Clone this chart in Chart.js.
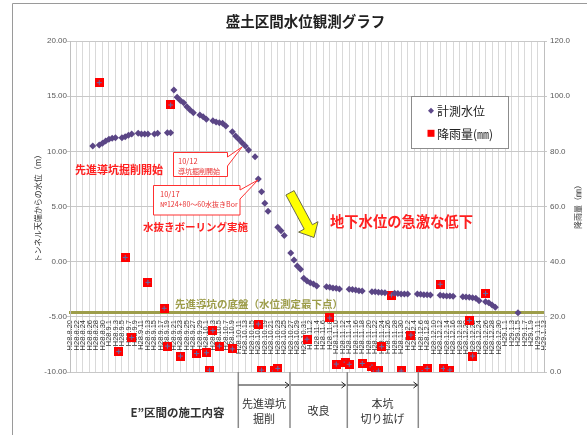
<!DOCTYPE html>
<html><head><meta charset="utf-8">
<script src="https://cdn.jsdelivr.net/npm/chart.js@4.4.0/dist/chart.umd.min.js"></script>
<style>
html,body{margin:0;padding:0;background:#fff;}
#wrap{position:relative;width:587px;height:435px;overflow:hidden;}
#c{position:absolute;left:0;top:0;}
#ov{position:absolute;left:0;top:0;pointer-events:none;}
</style></head><body>
<div id="wrap">
<canvas id="c" width="587" height="435"></canvas>
<svg id="ov" width="587" height="435" viewBox="0 0 587 435" font-family="'Noto Sans CJK JP',sans-serif">
  <!-- frame -->
  <path d="M12.5 435 V3.5 H587" fill="none" stroke="#9a9a9a" stroke-width="1"/>
  <!-- olive baseline label -->
  <text x="175" y="303" font-size="10.5" font-weight="bold" fill="#9d9d4a" dominant-baseline="central">先進導坑の底盤（水位測定最下点）</text>
  <!-- red annotations -->
  <text x="75" y="169" font-size="11" font-weight="bold" fill="#ff2020" dominant-baseline="central">先進導坑掘削開始</text>
  <text x="143" y="226" font-size="10.5" font-weight="bold" fill="#ff2020" dominant-baseline="central">水抜きボーリング実施</text>
  <text x="330" y="220" font-size="14.3" font-weight="bold" fill="#ff2020" dominant-baseline="central">地下水位の急激な低下</text>
  <!-- callout 1 -->
  <path d="M173.5 152.5 H227.5 V157 L242 147 L227.5 166 V176.5 H173.5 Z" fill="#fff" stroke="#ff3030" stroke-width="1"/>
  <text x="178" y="160" font-size="7.5" fill="#e83030" dominant-baseline="central">10/12</text>
  <text x="178" y="171" font-size="7" fill="#e83030" dominant-baseline="central">導坑掘削開始</text>
  <!-- callout 2 -->
  <path d="M153.5 185.5 H240 V190 L258 180 L240 199 V215 H153.5 Z" fill="#fff" stroke="#ff3030" stroke-width="1"/>
  <text x="160" y="193.5" font-size="7.5" fill="#e83030" dominant-baseline="central">10/17</text>
  <text x="160" y="204" font-size="7" fill="#e83030" dominant-baseline="central">№124+80～60水抜きBor</text>
  <!-- yellow arrow -->
  <polygon points="294.1,190.6 312.4,224.7 318.0,221.7 314,237.5 298.6,232.1 304.2,229.1 285.9,195.0" fill="#ffff00" stroke="#6b6b47" stroke-width="1"/>
  <!-- legend -->
  <rect x="411.5" y="96.5" width="97" height="52" fill="#fff" stroke="#8c8c8c" stroke-width="1"/>
  <polygon points="431,107.7 434,110.7 431,113.7 428,110.7" fill="#5f4a8b"/>
  <text x="437" y="110.7" font-size="12" fill="#222" dominant-baseline="central">計測水位</text>
  <rect x="427.5" y="129.8" width="7" height="7" fill="#ff0000"/>
  <text x="437" y="133.3" font-size="12" fill="#222" dominant-baseline="central">降雨量(㎜)</text>
  <!-- right axis title -->
  <text transform="translate(577,205) rotate(-90)" x="0" y="0" font-size="8" fill="#333" text-anchor="middle" dominant-baseline="central">降雨量（㎜）</text>
  <!-- bottom table -->
  <g stroke="#8a8a8a" stroke-width="1.5">
    <line x1="238.3" y1="372" x2="238.3" y2="428"/>
    <line x1="290" y1="372" x2="290" y2="428"/>
    <line x1="347.3" y1="372" x2="347.3" y2="428"/>
    <line x1="418.3" y1="372" x2="418.3" y2="428"/>
  </g>
  <g stroke="#222" stroke-width="1" fill="none">
    <line x1="238.5" y1="385" x2="289" y2="385"/><path d="M285 382 L289 385 L285 388"/>
    <line x1="291" y1="385" x2="345.5" y2="385"/><path d="M341.5 382 L345.5 385 L341.5 388"/>
    <line x1="347.5" y1="385" x2="417.5" y2="385"/><path d="M413.5 382 L417.5 385 L413.5 388"/>
  </g>
  <g font-size="11" fill="#333" text-anchor="middle" dominant-baseline="central">
    <text x="177.5" y="411.7" font-size="11.5" font-weight="bold">E”区間の施工内容</text>
    <text x="264" y="403">先進導坑</text>
    <text x="264" y="418">掘削</text>
    <text x="318.5" y="410">改良</text>
    <text x="382.5" y="403">本坑</text>
    <text x="382.5" y="418">切り拡げ</text>
  </g>
</svg>
</div>
<script>
// ---- data (day index from H28.8.20) ----
const tickLabels = ["H28.8.20","H28.8.22","H28.8.24","H28.8.26","H28.8.28","H28.8.30","H28.9.1","H28.9.3","H28.9.5","H28.9.7","H28.9.9","H28.9.11","H28.9.13","H28.9.15","H28.9.17","H28.9.19","H28.9.21","H28.9.23","H28.9.25","H28.9.27","H28.9.29","H28.10.1","H28.10.3","H28.10.5","H28.10.7","H28.10.9","H28.10.11","H28.10.13","H28.10.15","H28.10.17","H28.10.19","H28.10.21","H28.10.23","H28.10.25","H28.10.27","H28.10.29","H28.10.31","H28.11.2","H28.11.4","H28.11.6","H28.11.8","H28.11.10","H28.11.12","H28.11.14","H28.11.16","H28.11.18","H28.11.20","H28.11.22","H28.11.24","H28.11.26","H28.11.28","H28.11.30","H28.12.2","H28.12.4","H28.12.6","H28.12.8","H28.12.10","H28.12.12","H28.12.14","H28.12.16","H28.12.18","H28.12.20","H28.12.22","H28.12.24","H28.12.26","H28.12.28","H28.12.30","H29.1.1","H29.1.3","H29.1.5","H29.1.7","H29.1.9","H29.1.11","H29.1.13"];

const waterDays  = [7,9,10,11,12,13,14,16,17,18,19,21,22,23,24,26,27,30,31,32,33,34,35,36,37,38,40,41,42,44,45,46,47,48,50,51,52,53,54,55,57,58,59,60,61,64,65,66,68,69,70,71,72,73,74,75,76,79,80,81,82,83,86,87,88,89,90,93,94,95,96,97,100,101,102,103,104,107,108,109,110,111,114,115,116,117,118,121,122,123,124,125,126,128,129,130,131,138];
const waterLevel = [10.48,10.57,10.73,10.94,11.09,11.18,11.24,11.24,11.33,11.45,11.57,11.63,11.57,11.57,11.57,11.57,11.63,11.69,11.69,15.56,14.9,14.6,14.4,14.05,13.75,13.5,13.3,13.14,12.9,12.78,12.66,12.6,12.54,12.3,11.78,11.39,11.09,10.78,10.48,10.12,9.5,7.5,6.34,5.3,4.58,3.11,2.8,2.38,0.79,0.15,-0.39,-0.69,-1.51,-1.75,-1.9,-2.02,-2.2,-2.27,-2.32,-2.39,-2.41,-2.48,-2.51,-2.52,-2.57,-2.63,-2.66,-2.72,-2.73,-2.78,-2.79,-2.81,-2.87,-2.88,-2.93,-2.93,-2.94,-2.94,-2.96,-2.99,-3.0,-3.02,-3.05,-3.08,-3.11,-3.12,-3.14,-3.17,-3.2,-3.23,-3.26,-3.32,-3.54,-3.63,-3.72,-3.93,-4.14,-4.62];

const rainDays = [9,15,17,19,24,29,30,31,34,39,42,43,44,46,50,58,59,63,64,73,80,82,85,86,90,93,94,95,96,99,102,105,108,109,110,114,115,117,123,124,128];
const rainMM   = [104.9,7.4,41.5,12.5,32.5,23.1,9.4,96.8,5.8,6.7,7.0,0.7,15.0,9.4,8.4,17.4,0.7,0.4,1.3,11.9,19.6,2.9,3.6,2.8,3.1,1.9,0.4,0.4,9.2,27.9,0.4,13.4,0.4,0.5,1.3,31.8,1.3,0.7,18.7,5.8,28.5];

const baseLevel = -4.65; // 先進導坑の底盤

// ---- marker images ----
function squareMarker(){
  const c=document.createElement('canvas'); c.width=9; c.height=9;
  const g=c.getContext('2d');
  g.fillStyle='#ff0000'; g.fillRect(0,0,9,9);
  g.fillStyle='#5a72b0'; g.fillRect(4,2,1,5); g.fillRect(2,4,5,1);
  return c;
}

Chart.defaults.font.family="'Liberation Sans','Noto Sans CJK JP',sans-serif";

new Chart(document.getElementById('c'), {
  type:'scatter',
  data:{ datasets:[
    { label:'計測水位', data: waterDays.map((d,i)=>({x:d,y:waterLevel[i]})),
      pointStyle:'rectRot', pointRadius:3.5, backgroundColor:'#5b4686', borderColor:'#5b4686', borderWidth:0, yAxisID:'y' },
    { label:'降雨量(㎜)', data: rainDays.map((d,i)=>({x:d,y:rainMM[i]})),
      pointStyle: squareMarker(), pointRadius:4.5, backgroundColor:'#ff0000', borderColor:'#ff0000', yAxisID:'y2' }
  ]},
  options:{
    responsive:false, animation:false, devicePixelRatio:1,
    layout:{padding:{left:24,right:0,top:3,bottom:63}},
    plugins:{
      legend:{display:false}, tooltip:{enabled:false},
      title:{display:true, text:'盛土区間水位観測グラフ', color:'#222',
        font:{family:"'Noto Sans CJK JP',sans-serif", size:14.5, weight:'bold'}, padding:{top:9.3,bottom:11.3}}
    },
    scales:{
      x:{ type:'linear', position:{y:baseLevel}, min:0, max:146,
        ticks:{ stepSize:2, autoSkip:false, maxRotation:90, minRotation:90, padding:7,
          font:{size:7.5}, color:'#333', callback:(v,i)=>tickLabels[i] },
        grid:{ color:'#d9d9d9', drawTicks:false },
        border:{ color:'#9d9d4a', width:3 } },
      y:{ position:'left', min:-10, max:20,
        ticks:{ stepSize:5, callback:v=>Number(v).toFixed(2), font:{size:8}, color:'#595959', padding:0 },
        grid:{ color:'#c8c8c8', tickLength:3 }, border:{color:'#bfbfbf'},
        title:{display:true, text:'トンネル天端からの水位（m）', color:'#333',
          font:{family:"'Noto Sans CJK JP',sans-serif", size:8}, padding:{top:9,bottom:0}},
        afterFit:s=>{s.width=46;} },
      y2:{ position:'right', min:0, max:120,
        ticks:{ stepSize:20, callback:v=>Number(v).toFixed(1), font:{size:8}, color:'#595959', padding:3 },
        grid:{ drawOnChartArea:false, tickLength:3, color:'#c8c8c8' }, border:{color:'#bfbfbf'},
        afterFit:s=>{s.width=43;} }
    }
  }
});
</script>
</body></html>
